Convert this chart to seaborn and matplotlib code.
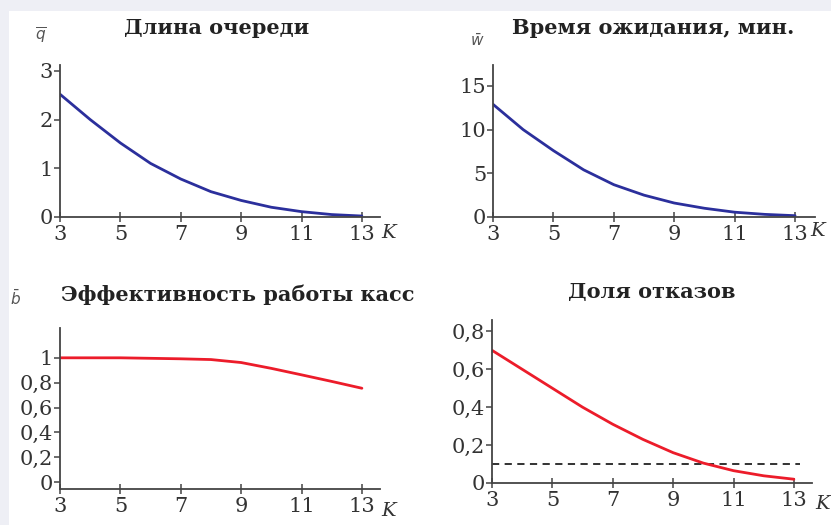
import matplotlib
matplotlib.use("Agg")
import matplotlib.pyplot as plt
from matplotlib.patches import Rectangle
import pandas as pd
import seaborn as sns

# Data
K = [3, 4, 5, 6, 7, 8, 9, 10, 11, 12, 13]
queue_len = [2.52, 2.0, 1.52, 1.1, 0.78, 0.52, 0.34, 0.2, 0.11, 0.05, 0.02]
wait_time = [12.9, 10.0, 7.6, 5.4, 3.7, 2.5, 1.6, 1.0, 0.55, 0.3, 0.15]
efficiency = [1.0, 1.0, 1.0, 0.996, 0.992, 0.986, 0.962, 0.915, 0.863, 0.81, 0.755]
refusals = [0.70, 0.60, 0.50, 0.40, 0.31, 0.23, 0.16, 0.105, 0.065, 0.038, 0.02]
refusal_limit = 0.1

x_ticks = [3, 5, 7, 9, 11, 13]
q_ticks = [0, 1, 2, 3]
w_ticks = [0, 5, 10, 15]
b_ticks = [0, 0.2, 0.4, 0.6, 0.8, 1]
b_labels = ["0", "0,2", "0,4", "0,6", "0,8", "1"]
r_ticks = [0, 0.2, 0.4, 0.6, 0.8]
r_labels = ["0", "0,2", "0,4", "0,6", "0,8"]

titles = ["Длина очереди", "Время ожидания, мин.",
          "Эффективность работы касс", "Доля отказов"]

BLUE = "#2b2f9c"
RED = "#ec1c2a"
INK = "#333333"
W, H = 831, 525

sns.set_theme(style="ticks")
plt.rcParams["font.family"] = ["DejaVu Serif"]
plt.rcParams["axes.linewidth"] = 1.3

fig = plt.figure(figsize=(W / 100, H / 100), dpi=100)
fig.patch.set_facecolor("#eeeff5")
fig.patches.append(Rectangle((9 / W, 0), 1, 1 - 11 / H, transform=fig.transFigure,
                             facecolor="white", edgecolor="none", zorder=-10))


def px_axes(left, top, right, bottom):
    return fig.add_axes([left / W, 1 - bottom / H, (right - left) / W, (bottom - top) / H])


def style(ax, xlim, ylim, yticks, ylabels=None):
    ax.set_xlim(*xlim)
    ax.set_ylim(*ylim)
    ax.set_xticks(x_ticks)
    ax.set_yticks(yticks)
    if ylabels is not None:
        ax.set_yticklabels(ylabels)
    ax.set_facecolor("none")
    sns.despine(ax=ax)
    for s in ("left", "bottom"):
        ax.spines[s].set_color("#444444")
    ax.tick_params(axis="x", direction="inout", length=7, width=1.1, colors="#444444",
                   labelcolor=INK, labelsize=15, pad=2)
    ax.tick_params(axis="y", direction="out", length=4, width=1.1, colors="#444444",
                   labelcolor=INK, labelsize=15, pad=1)
    ax.set_xlabel("")
    ax.set_ylabel("")


df = pd.DataFrame({"K": K, "q": queue_len, "w": wait_time, "b": efficiency, "r": refusals})

# Panel 1: queue length
ax1 = px_axes(60, 65, 380, 217)
sns.lineplot(data=df, x="K", y="q", ax=ax1, color=BLUE, linewidth=2)
style(ax1, (3, 13.6), (0, 3.12), q_ticks)

# Panel 2: waiting time
ax2 = px_axes(493, 65, 815, 217)
sns.lineplot(data=df, x="K", y="w", ax=ax2, color=BLUE, linewidth=2)
style(ax2, (3, 13.66), (0, 17.4), w_ticks)

# Panel 3: efficiency
ax3 = px_axes(60, 328, 380, 489)
sns.lineplot(data=df, x="K", y="b", ax=ax3, color=RED, linewidth=2)
style(ax3, (3, 13.6), (-0.056, 1.24), b_ticks, b_labels)

# Panel 4: refusal share
ax4 = px_axes(492, 320, 812, 483)
ax4.axhline(refusal_limit, xmin=0, xmax=(13.2 - 3) / (13.6 - 3), color="#222222",
            linewidth=1.3, linestyle=(0, (4, 3)))
sns.lineplot(data=df, x="K", y="r", ax=ax4, color=RED, linewidth=2)
style(ax4, (3, 13.6), (0, 0.86), r_ticks, r_labels)

# Titles and axis labels
title_pos = [(217, 28), (653, 28), (238, 295), (652, 292)]
for t, (x, y) in zip(titles, title_pos):
    fig.text(x / W, 1 - y / H, t, ha="center", va="center", fontsize=15,
             fontweight="bold", color="#222222")

for (x, y) in [(389, 233), (818, 231), (389, 511), (823, 504)]:
    fig.text(x / W, 1 - y / H, "K", ha="center", va="center", fontsize=14,
             style="italic", color=INK)

for lbl, (x, y) in [(r"$\overline{q}$", (41, 36)), (r"$\bar{w}$", (477, 41)),
                    (r"$\bar{b}$", (15, 298))]:
    fig.text(x / W, 1 - y / H, lbl, ha="center", va="center", fontsize=11,
             color="#555555")

fig.savefig("out.png", dpi=100)
